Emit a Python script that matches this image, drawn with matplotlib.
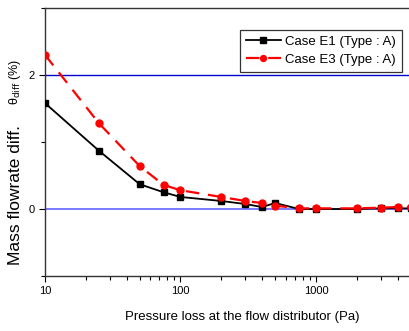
import matplotlib
matplotlib.use("Agg")
import matplotlib.pyplot as plt
from matplotlib.ticker import LogLocator, NullFormatter, FixedLocator

plt.rcParams['font.family'] = ['Liberation Sans', 'DejaVu Sans']

# pressure loss (Pa)
x_e1 = [10, 25, 50, 75, 100, 200, 300, 400, 500, 750, 1000, 2000, 3000, 4000, 5000]
y_e1 = [1.58, 0.87, 0.37, 0.25, 0.18, 0.12, 0.075, 0.03, 0.09, 0.0, 0.0, 0.0, 0.01, 0.01, 0.01]

x_e3 = [10, 25, 50, 75, 100, 200, 300, 400, 500, 750, 1000, 2000, 3000, 4000, 5000]
y_e3 = [2.30, 1.28, 0.64, 0.36, 0.28, 0.18, 0.12, 0.09, 0.05, 0.01, 0.01, 0.01, 0.02, 0.03, 0.03]

labels = ["Case E1 (Type : A)", "Case E3 (Type : A)"]

fig = plt.figure(figsize=(4.09, 3.31), dpi=100)
ax = fig.add_axes([0.110, 0.166, 0.894, 0.810])

ax.axhline(2, color='#0000cc', lw=1.0, zorder=1)
ax.axhline(0, color='#7070ff', lw=1.3, zorder=1)

ax.plot(x_e1, y_e1, color='black', lw=1.3, marker='s', ms=4.5,
        label=labels[0], zorder=3)
ax.plot(x_e3, y_e3, color='red', lw=1.6, ls=(0, (6, 4)), marker='o', ms=5,
        label=labels[1], zorder=4)

ax.set_xscale('log')
ax.set_xlim(10, 5000)
ax.set_ylim(-1, 3)

ax.xaxis.set_major_locator(FixedLocator([10, 100, 1000]))
ax.set_xticklabels(['10', '100', '1000'])
ax.xaxis.set_minor_locator(LogLocator(base=10, subs=range(2, 10)))
ax.xaxis.set_minor_formatter(NullFormatter())
ax.set_yticks([0, 2])
ax.set_yticks([-1, 1, 3], minor=True)

ax.tick_params(which='major', direction='out', length=4, labelsize=8, width=0.8)
ax.tick_params(which='minor', direction='out', length=3, width=0.8)
for s in ax.spines.values():
    s.set_linewidth(1.0)
    s.set_color('#333333')

ax.set_xlabel('Pressure loss at the flow distributor (Pa)', fontsize=9.5)
ax.xaxis.set_label_coords(0.539, -0.13)

fig.text(0.037, 0.41, 'Mass flowrate diff.', rotation=90, fontsize=12.5,
         ha='center', va='center')
fig.text(0.037, 0.752, r'θ$_{\mathrm{diff}}$ (%)', rotation=90, fontsize=9,
         ha='center', va='center')

leg = ax.legend(loc='upper right', bbox_to_anchor=(0.976, 0.918), fontsize=9.5,
                fancybox=False, framealpha=1, edgecolor='#333333',
                handlelength=2.7, handletextpad=0.3, borderpad=0.45,
                labelspacing=0.4, borderaxespad=0, markerscale=0.85)
leg.get_frame().set_linewidth(0.9)

fig.savefig('out.png', dpi=100)
